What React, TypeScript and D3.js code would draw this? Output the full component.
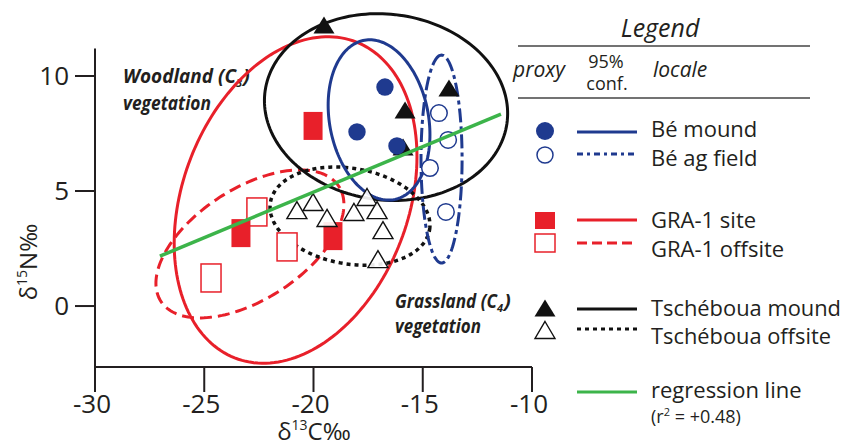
import React from 'react';
import * as d3 from 'd3';

// ---------- data ----------
const xTicks = [-30, -25, -20, -15, -10];
const yTicks = [0, 5, 10];

const beMound: [number, number][] = [[-16.73, 9.52], [-18.01, 7.57], [-16.18, 6.96]];
const beAgField: [number, number][] = [[-14.26, 8.39], [-13.84, 7.22], [-14.67, 6.0], [-13.94, 4.09]];
const graSite: [number, number][] = [[-20.02, 7.83], [-23.32, 3.17], [-19.11, 3.04]];
const graOffsite: [number, number][] = [[-22.59, 4.09], [-21.21, 2.57], [-24.69, 1.22]];
const tschMound: [number, number][] = [[-19.52, 12.22], [-15.81, 8.52], [-13.8, 9.48], [-15.9, 6.91]];
const tschOffsite: [number, number][] = [
  [-20.76, 4.17], [-20.02, 4.52], [-19.38, 3.83], [-18.15, 4.09],
  [-17.55, 4.74], [-17.09, 4.17], [-16.82, 3.3], [-17.05, 2.04],
];

// 95% confidence ellipses: [cx, cy, semi-major, semi-minor, angle deg] in data units
const ellBeMound = [-17.0, 8.09, 3.53, 2.26, 102];
const ellBeAg = [-14.14, 6.39, 4.52, 0.94, 90];
const ellGraSite = [-20.82, 4.61, 7.41, 5.13, 66.5];
const ellGraOff = [-22.91, 2.7, 4.78, 2.45, 30.5];
const ellTschMound = [-16.68, 8.65, 5.58, 4.04, -6];
const ellTschOff = [-18.33, 3.91, 3.69, 2.08, -9];

const regSlope = 0.396;
const regIntercept = 12.87;
const regX = [-27.03, -11.42];
const rSquared = '+0.48';

// ---------- styles ----------
const RED = '#e8202a';
const BLUE = '#1f3a8f';
const BLACK = '#111111';
const GREEN = '#3cb44a';
const INK = '#231f20';
const FONT = "'Open Sans', 'Noto Sans', sans-serif";

const x = d3.scaleLinear().domain([-30, -10]).range([95, 532]);
const y = d3.scaleLinear().domain([-2.65, 11.2]).range([367, 48.4]);

function ellipsePath(e: number[]) {
  const [cx, cy, a, b, ang] = e;
  const phi = (ang * Math.PI) / 180;
  const pts = d3.range(0, 360, 2).map((t) => {
    const r = (t * Math.PI) / 180;
    const dx = a * Math.cos(r);
    const dy = b * Math.sin(r);
    return [x(cx + dx * Math.cos(phi) - dy * Math.sin(phi)), y(cy + dx * Math.sin(phi) + dy * Math.cos(phi))] as [number, number];
  });
  return d3.line().curve(d3.curveLinearClosed)(pts) || '';
}

const triPath = (w: number, h: number) => `M0,${-h / 2}L${w / 2},${h / 2}L${-w / 2},${h / 2}Z`;

export default function App() {
  const regLine = d3.line()(regX.map((v) => [x(v), y(regIntercept + regSlope * v)] as [number, number])) || '';
  const LX = 545;
  const L1 = 577;
  const L2 = 637;
  const TX = 651;
  return (
    <svg width={843} height={447} style={{ position: 'absolute', left: 0, top: 0, background: '#fff' }} fontFamily={FONT}>
      <rect width={843} height={447} fill="#fff" />
      {/* axes */}
      <g stroke={INK} strokeWidth={2} fill="none">
        <line x1={x(-30)} x2={x(-30)} y1={48.4} y2={367} />
        <line x1={x(-30)} x2={x(-10)} y1={367} y2={367} />
        {xTicks.map((t) => (
          <line key={t} x1={x(t)} x2={x(t)} y1={367} y2={392} />
        ))}
        {yTicks.map((t) => (
          <line key={t} x1={75} x2={x(-30)} y1={y(t)} y2={y(t)} />
        ))}
      </g>
      <g fill={INK} fontSize={26}>
        {xTicks.map((t) => (
          <text key={t} x={x(t) - 3} y={413} textAnchor="middle">{`-${Math.abs(t)}`}</text>
        ))}
        {yTicks.map((t) => (
          <text key={t} x={69} y={y(t) + 9} textAnchor="end">{t}</text>
        ))}
      </g>
      <g fill={INK} fontSize={24}>
        <text x={314} y={440} textAnchor="middle">
          δ<tspan dy={-10} fontSize={14}>13</tspan><tspan dy={10}>C‰</tspan>
        </text>
        <text transform="translate(37,262) rotate(-90)" textAnchor="middle">
          δ<tspan dy={-10} fontSize={14}>15</tspan><tspan dy={10}>N‰</tspan>
        </text>
      </g>

      {/* annotations */}
      <g fill={INK} fontWeight={700} fontStyle="italic" fontSize={20}>
        <text x={123} y={83} textLength={113} lengthAdjust="spacingAndGlyphs">Woodland (C</text>
        <text x={236} y={87} fontSize={11}>3</text>
        <text x={243} y={83}>)</text>
        <text x={123} y={110} textLength={88} lengthAdjust="spacingAndGlyphs">vegetation</text>
        <text x={395} y={308} textLength={102} lengthAdjust="spacingAndGlyphs">Grassland (C</text>
        <text x={497} y={312} fontSize={11}>4</text>
        <text x={504} y={308}>)</text>
        <text x={395} y={333} textLength={86} lengthAdjust="spacingAndGlyphs">vegetation</text>
      </g>

      {/* confidence ellipses */}
      <g fill="none" strokeWidth={3}>
        <path d={ellipsePath(ellGraSite)} stroke={RED} />
        <path d={ellipsePath(ellGraOff)} stroke={RED} strokeDasharray="12 6" />
        <path d={ellipsePath(ellTschMound)} stroke={BLACK} />
        <path d={ellipsePath(ellTschOff)} stroke={BLACK} strokeWidth={3.5} strokeDasharray="4 4" />
        <path d={ellipsePath(ellBeMound)} stroke={BLUE} />
        <path d={ellipsePath(ellBeAg)} stroke={BLUE} strokeDasharray="14 4 4 4" />
      </g>

      {/* points */}
      {graOffsite.map(([a, b], i) => (
        <rect key={'go' + i} x={x(a) - 10} y={y(b) - 14} width={20} height={28} fill="#fff" stroke={RED} strokeWidth={1.5} />
      ))}
      {graSite.map(([a, b], i) => (
        <rect key={'gs' + i} x={x(a) - 9.5} y={y(b) - 14} width={19} height={28} fill={RED} />
      ))}
      {tschOffsite.map(([a, b], i) => (
        <path key={'to' + i} d={triPath(20, 17)} transform={`translate(${x(a)},${y(b)})`} fill="#fff" fillOpacity={0.9} stroke={BLACK} strokeWidth={1.4} />
      ))}
      {tschMound.map(([a, b], i) => (
        <path key={'tm' + i} d={triPath(21, 17)} transform={`translate(${x(a)},${y(b)})`} fill={BLACK} />
      ))}
      {beAgField.map(([a, b], i) => (
        <circle key={'ba' + i} cx={x(a)} cy={y(b)} r={8.3} fill="#fff" stroke={BLUE} strokeWidth={1.5} />
      ))}
      {beMound.map(([a, b], i) => (
        <circle key={'bm' + i} cx={x(a)} cy={y(b)} r={8.7} fill={BLUE} />
      ))}

      {/* regression */}
      <path d={regLine} stroke={GREEN} strokeWidth={3.5} fill="none" />

      {/* legend */}
      <g fill={INK}>
        <text x={660} y={37} textAnchor="middle" fontStyle="italic" fontSize={25}>Legend</text>
        <line x1={518} x2={810} y1={46} y2={46} stroke="#444" strokeWidth={1.3} />
        <line x1={518} x2={810} y1={98} y2={98} stroke="#444" strokeWidth={1.3} />
        <text x={513} y={77} fontStyle="italic" fontSize={21}>proxy</text>
        <text x={606} y={68} textAnchor="middle" fontSize={18}>95%</text>
        <text x={607} y={90} textAnchor="middle" fontSize={18}>conf.</text>
        <text x={653} y={77} fontStyle="italic" fontSize={21}>locale</text>
      </g>
      <g>
        <circle cx={LX} cy={131} r={9} fill={BLUE} />
        <line x1={L1} x2={L2} y1={132} y2={132} stroke={BLUE} strokeWidth={3} />
        <circle cx={LX} cy={155} r={8} fill="#fff" stroke={BLUE} strokeWidth={1.5} />
        <line x1={L1} x2={L2} y1={154} y2={154} stroke={BLUE} strokeWidth={3} strokeDasharray="6 4 3 4" />

        <rect x={LX - 10} y={212} width={20} height={17} fill={RED} />
        <line x1={L1} x2={L2} y1={220} y2={220} stroke={RED} strokeWidth={3} />
        <rect x={LX - 10} y={234} width={20} height={18} fill="#fff" stroke={RED} strokeWidth={1.5} />
        <line x1={L1} x2={L2} y1={243} y2={243} stroke={RED} strokeWidth={3} strokeDasharray="10 5" />

        <path d={triPath(21, 17)} transform={`translate(${LX},308)`} fill={BLACK} />
        <line x1={L1} x2={L2} y1={309} y2={309} stroke={BLACK} strokeWidth={3} />
        <path d={triPath(20, 17)} transform={`translate(${LX},330)`} fill="#fff" stroke={BLACK} strokeWidth={1.4} />
        <line x1={L1} x2={L2} y1={329} y2={329} stroke={BLACK} strokeWidth={3} strokeDasharray="4 4" />

        <line x1={L1} x2={L2} y1={392} y2={392} stroke={GREEN} strokeWidth={3} />
      </g>
      <g fill={INK} fontSize={22}>
        <text x={TX} y={137}>Bé mound</text>
        <text x={TX} y={166}>Bé ag field</text>
        <text x={TX} y={228}>GRA-1 site</text>
        <text x={TX} y={257}>GRA-1 offsite</text>
        <text x={TX} y={316} textLength={190} lengthAdjust="spacingAndGlyphs">Tschéboua mound</text>
        <text x={TX} y={344} textLength={180} lengthAdjust="spacingAndGlyphs">Tschéboua offsite</text>
        <text x={TX} y={398}>regression line</text>
        <text x={TX} y={423} fontSize={18}>
          (r<tspan dy={-7} fontSize={11}>2</tspan><tspan dy={7}> = {rSquared})</tspan>
        </text>
      </g>
    </svg>
  );
}
